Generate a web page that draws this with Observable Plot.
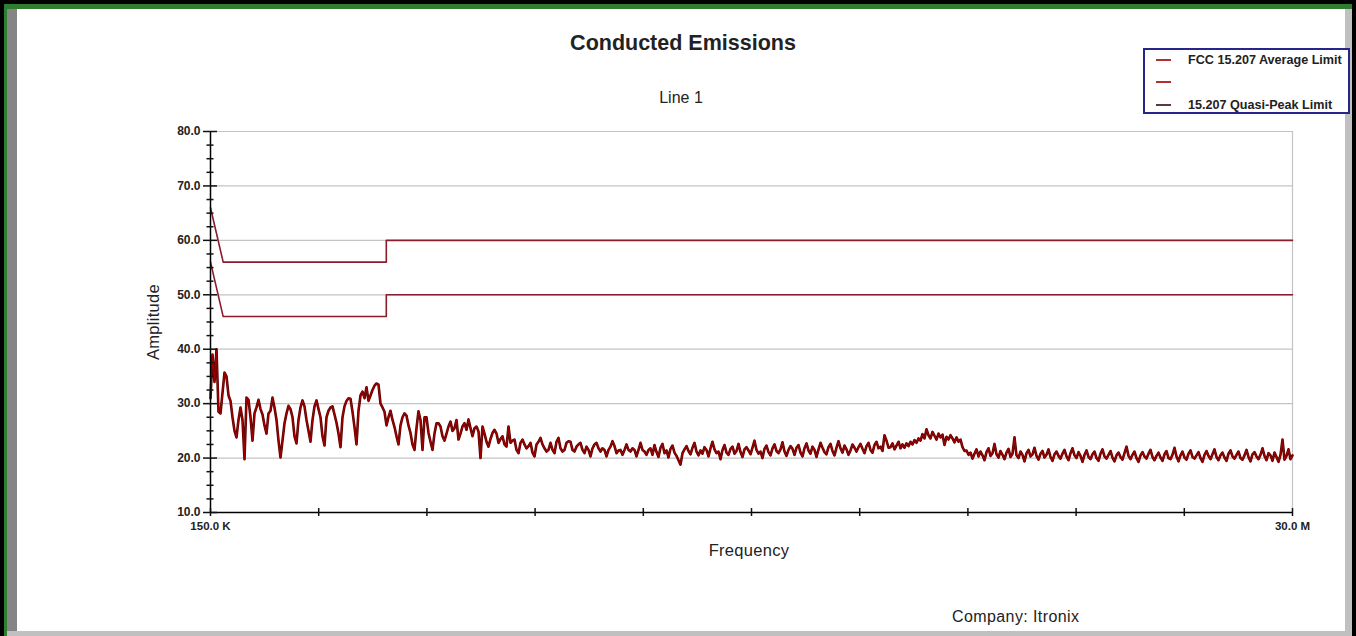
<!DOCTYPE html>
<html><head><meta charset="utf-8">
<script src="https://cdn.jsdelivr.net/npm/d3@7"></script>
<script src="https://cdn.jsdelivr.net/npm/@observablehq/plot@0.6"></script>
<style>
html,body{margin:0;padding:0;background:#000;}
#page{position:relative;width:1356px;height:636px;background:#000;overflow:hidden;font-family:"Liberation Sans",Arial,sans-serif;color:#111;}
.blk{position:absolute;}
#chart{position:absolute;left:0;top:0;}
.txt{position:absolute;white-space:nowrap;line-height:1;}
#legend{position:absolute;left:1143px;top:48px;width:207px;height:66px;box-sizing:border-box;border:2px solid #25258a;background:#fff;}
.lrow{position:absolute;left:0;height:14px;width:200px;}
.lsw{position:absolute;left:11px;top:6px;width:15px;height:2px;}
.ltx{position:absolute;left:43px;top:0;font-size:12.6px;font-weight:bold;line-height:14px;color:#222;white-space:nowrap;}
</style>
</head><body>
<div id="page">
  <div class="blk" style="left:4px;top:4px;width:1348px;height:5px;background:#2f7d31"></div>
  <div class="blk" style="left:4px;top:4px;width:3px;height:632px;background:#2f7d31"></div>
  <div class="blk" style="left:7px;top:9px;width:10px;height:627px;background:#858585"></div>
  <div class="blk" style="left:1345px;top:9px;width:7px;height:627px;background:#c0c0c0"></div>
  <div class="blk" style="left:7px;top:631px;width:1345px;height:5px;background:#c0c0c0"></div>
  <div class="blk" style="left:17px;top:9px;width:1328px;height:622px;background:#fff"></div>
  <div id="chart"></div>
  <div class="txt" id="title" style="left:683px;top:33px;transform:translateX(-50%);font-size:21.5px;font-weight:bold;color:#222"></div>
  <div class="txt" id="subtitle" style="left:681px;top:90px;transform:translateX(-50%);font-size:16px;color:#222"></div>
  <div class="txt" id="xlabel" style="left:749px;top:542px;transform:translateX(-50%);font-size:16.5px;color:#222;letter-spacing:0.3px"></div>
  <div class="txt" id="ylabel" style="left:153px;top:322px;transform:translate(-50%,-50%) rotate(-90deg);font-size:16.5px;color:#222;letter-spacing:0.3px"></div>
  <div class="txt" id="caption" style="left:952px;top:609px;font-size:16px;color:#222;letter-spacing:0.4px"></div>
  <div id="legend"></div>
</div>
<script>
// ---- text ----
const titleText = "Conducted Emissions";
const subtitleText = "Line 1";
const xLabelText = "Frequency";
const yLabelText = "Amplitude";
const captionText = "Company: Itronix";

// ---- legend ----
const legendLabels = ["FCC 15.207 Average Limit", "", "15.207 Quasi-Peak Limit"];
const legendColors = ["#b03030", "#b03030", "#5a3a3a"];

// ---- axes ----
const yMajorTicks = [10, 20, 30, 40, 50, 60, 70, 80];
const yMinorTicks = [12.5, 15, 17.5, 22.5, 25, 27.5, 32.5, 35, 37.5, 42.5, 45, 47.5, 52.5, 55, 57.5, 62.5, 65, 67.5, 72.5, 75, 77.5];
const yGridLines = [20, 30, 40, 50, 60, 70, 80];
const xMajorTicks = [0.15, 3.135, 6.12, 9.105, 12.09, 15.075, 18.06, 21.045, 24.03, 27.015, 30];
const xLabelTicks = [0.15, 30];
const xTickLabels = ["150.0 K", "30.0 M"];

// ---- limits (MHz, dBuV) ----
const avgLimitFreq = [0.15, 0.5, 5, 5, 30];
const avgLimitAmp  = [56, 46, 46, 50, 50];
const qpLimitFreq  = [0.15, 0.5, 5, 5, 30];
const qpLimitAmp   = [66, 56, 56, 60, 60];

// ---- measured trace: sweep from 0.15 MHz to 30 MHz, equally spaced samples ----
const sweepStartMHz = 0.15;
const sweepStopMHz = 30;
const traceAmp = [
31,39,34,40,28.5,28.2,32,35.7,35,31.5,
30.5,27.5,25,23.8,27,29.3,27,19.8,31.1,30.7,
27.5,23.2,28.2,29.3,30.7,29,28,26,24.5,28.2,
28.7,31.1,29.3,27,23.2,20.1,23.2,26.4,28.2,29.6,
29,27.5,24,22.7,27,29.3,30.6,29.5,27,25,
23,27,29.5,30.6,29,27.5,24,22.3,27.5,28.7,
29.3,29.5,28,26.5,24.5,22,27.5,29.5,30.5,31,
30.9,28.5,25.7,22.5,28.7,31.5,32.2,31,33,30.5,
31.5,32.5,33.3,33.7,33.5,30,29.3,28.5,26,27.5,
28.7,27,25.7,24,22.5,26,27.5,28.2,27.8,26,
24.6,22.5,21.5,25.5,28.6,27,21.5,27.5,27.5,24.6,
23,21.5,24.5,26.4,26.4,25.8,24,23.2,24.5,25.8,
26.7,25,25.5,27,23.4,24.5,25.8,26.4,25.2,27.1,
25.5,24,25.5,25.8,24.9,20,25.8,24.5,23,22.1,
23.5,24.6,25.2,24.5,22.8,23.5,24,22.5,22.1,25.8,
22.8,23.2,23.4,21.5,20.9,22.8,23.4,22.5,21.8,22.2,
22.8,21,20.3,22.5,23,23.7,22.5,21.8,21.2,21.5,
22.8,21.5,20.9,23,23.7,21.8,21.2,21.5,22.8,23.1,
23,21.5,21.2,22.1,22.5,22.8,21.5,20.9,22.1,21.5,
20.3,21.8,22.5,22.8,21.8,21.2,21.8,21.5,20.3,21.5,
22.1,23.1,22.2,20.9,21.4,21.5,20.6,21.5,22.5,21.5,
21.2,21.8,21.5,20.3,21.5,22.8,21.5,21.2,20.6,21.5,
21.8,20.6,22.4,21.1,20.2,21.9,22.6,20.9,21.4,20.1,
21.7,22.3,21.0,20.4,19.6,18.8,20.9,21.6,22.2,21.3,
20.7,21.9,22.8,21.2,20.5,21.4,20.8,22.0,21.5,20.3,
21.8,23.0,21.6,20.9,21.2,19.8,21.5,22.4,21.0,20.6,
21.7,22.1,20.8,21.3,22.6,21.1,20.2,21.6,22.0,21.4,
20.7,21.9,23.2,21.5,20.8,21.2,20.0,21.7,22.3,21.1,
20.5,21.8,22.5,21.3,20.9,21.6,22.9,21.2,20.4,21.5,
22.2,21.7,20.6,21.9,22.4,21.0,20.3,21.8,22.7,21.4,
20.8,22.1,21.5,20.2,21.6,22.8,21.9,21.1,20.7,22.0,
22.6,21.3,20.5,21.9,23.1,21.8,21.0,22.3,21.6,20.6,
21.4,22.5,21.9,21.2,22.0,22.6,21.7,20.9,22.2,22.8,
21.5,21.0,22.4,23.0,21.8,22.1,21.3,24.2,23.2,21.9,
22.0,22.7,21.6,22.3,23.0,
21.8,22.5,21.9,22.7,22.2,23.0,22.5,23.3,22.8,23.6,
23.2,24.4,23.6,25.3,24.2,23.6,24.8,24.1,23.4,24.5,
23.8,24.3,22.4,23.9,23.4,24.2,23.6,22.9,23.8,23.0,
23.4,22.0,21.3,
21.4,20.6,21.0,19.9,20.8,21.6,20.3,21.2,20.5,19.6,
21.1,21.8,20.4,20.9,22.6,20.7,20.1,21.3,20.6,19.8,
21.0,21.7,20.2,20.8,23.8,20.5,20.0,21.2,20.6,19.4,
20.9,21.5,20.3,20.7,21.9,20.4,19.7,20.8,21.3,20.1,
20.6,21.6,20.2,19.5,20.7,21.2,20.4,19.9,20.8,21.5,
20.3,19.6,20.9,21.8,20.5,20.0,21.1,20.4,19.3,20.6,
21.4,20.2,19.8,20.7,21.2,20.0,19.5,20.8,21.6,20.3,
19.9,20.6,21.3,20.1,19.4,20.5,21.0,20.2,19.7,20.9,
22.1,20.4,19.8,20.6,21.2,20.0,19.3,20.5,21.1,20.3,
19.9,20.8,21.5,20.2,19.6,20.4,21.0,20.1,19.5,20.7,
21.3,20.0,19.8,20.6,21.9,20.3,19.4,20.5,21.2,20.1,
19.7,20.8,21.4,20.2,19.9,20.5,21.1,20.0,19.3,20.6,
21.3,20.4,19.8,20.7,21.6,20.2,19.6,20.5,21.0,20.1,
19.5,20.8,21.4,20.3,19.9,20.6,21.2,20.0,19.7,20.5,
21.5,20.2,19.4,20.7,21.1,20.3,19.8,20.6,21.8,20.4,
19.6,20.9,20.5,19.5,21.0,20.2,19.3,20.6,23.4,19.7,
20.4,21.6,19.8,20.5
];

// ---- build tables ----
const nPts = traceAmp.length;
const traceData = traceAmp.map((a, i) => ({f: sweepStartMHz + i * (sweepStopMHz - sweepStartMHz) / (nPts - 1), a}));
const avgData = avgLimitFreq.map((f, i) => ({f, a: avgLimitAmp[i]}));
const qpData = qpLimitFreq.map((f, i) => ({f, a: qpLimitAmp[i]}));

const chart = Plot.plot({
  width: 1356,
  height: 636,
  marginLeft: 210,
  marginRight: 64,
  marginTop: 131,
  marginBottom: 124,
  x: {type: "linear", domain: [sweepStartMHz, sweepStopMHz]},
  y: {domain: [10, 80]},
  style: {background: "transparent", fontFamily: "'Liberation Sans', Arial, sans-serif", overflow: "visible"},
  marks: [
    Plot.ruleY(yGridLines, {stroke: "#c4c4c4", strokeWidth: 1.2}),
    Plot.ruleX([sweepStopMHz], {stroke: "#c4c4c4", strokeWidth: 1.2}),
    Plot.line(avgData, {x: "f", y: "a", stroke: "#8a1c2c", strokeWidth: 1.6}),
    Plot.line(qpData, {x: "f", y: "a", stroke: "#8a1c2c", strokeWidth: 1.6}),
    Plot.line(traceData, {x: "f", y: "a", stroke: "#5c0000", strokeWidth: 2.6}),
    Plot.line(traceData, {x: "f", y: "a", stroke: "#a00000", strokeWidth: 1.2}),
    Plot.ruleX([sweepStartMHz], {stroke: "#000", strokeWidth: 1.5}),
    Plot.ruleY([10], {stroke: "#000", strokeWidth: 1.5}),
    Plot.axisY({ticks: yMajorTicks, tickSize: 14, dx: 7, tickPadding: 3, tickFormat: d => d.toFixed(1), label: null, fontSize: 12, fontWeight: "bold", fill: "#222", strokeWidth: 1.5}),
    Plot.axisY({ticks: yMinorTicks, tickSize: 7, dx: 3.5, tickFormat: () => "", label: null, strokeWidth: 1.5}),
    Plot.axisX({ticks: xMajorTicks, tickSize: 8, dy: -4, tickFormat: () => "", label: null, strokeWidth: 1.5}),
    Plot.axisX({ticks: xLabelTicks, tickSize: 0, tickPadding: 9, tickFormat: d => xTickLabels[xLabelTicks.indexOf(d)], label: null, fontSize: 11.5, fontWeight: "bold", fill: "#222"})
  ]
});
document.getElementById("chart").appendChild(chart);

document.getElementById("title").textContent = titleText;
document.getElementById("subtitle").textContent = subtitleText;
document.getElementById("xlabel").textContent = xLabelText;
document.getElementById("ylabel").textContent = yLabelText;
document.getElementById("caption").textContent = captionText;

const legend = document.getElementById("legend");
const rowTops = [3, 25, 48];
legendLabels.forEach((lab, i) => {
  const row = document.createElement("div");
  row.className = "lrow";
  row.style.top = rowTops[i] + "px";
  const sw = document.createElement("div");
  sw.className = "lsw";
  sw.style.background = legendColors[i];
  const tx = document.createElement("div");
  tx.className = "ltx";
  tx.textContent = lab;
  row.appendChild(sw); row.appendChild(tx);
  legend.appendChild(row);
});
</script>
</body></html>
